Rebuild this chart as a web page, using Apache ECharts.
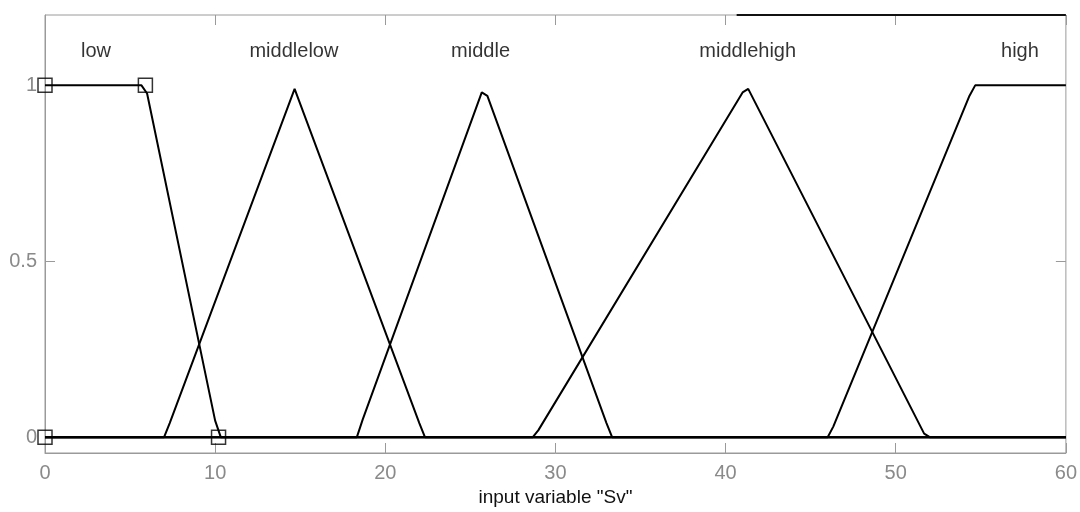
<!DOCTYPE html>
<html>
<head>
<meta charset="utf-8">
<script src="https://cdn.jsdelivr.net/npm/echarts@6/dist/echarts.min.js"></script>
<style>
html,body{margin:0;padding:0;background:#fff;}
#chart{width:1080px;height:512px;}
</style>
</head>
<body>
<div id="chart"></div>
<script>
// Membership function vertices (x, membership)
var lowPts        = [[0,1],[5.67,1],[6.0,0.977],[10.0,0.047],[10.33,0],[60,0]];
var middlelowPts  = [[0,0],[7.0,0],[7.33,0.04],[14.67,0.99],[22.0,0.04],[22.33,0],[60,0]];
var middlePts     = [[0,0],[18.33,0],[18.67,0.05],[25.67,0.98],[26.0,0.97],[33.0,0.04],[33.33,0],[60,0]];
var middlehighPts = [[0,0],[28.67,0],[29.0,0.02],[41.0,0.98],[41.33,0.99],[51.67,0.01],[52.0,0],[60,0]];
var highPts       = [[0,0],[46.0,0],[46.33,0.03],[54.33,0.97],[54.67,1],[60,1]];

// MF names and label anchor positions
var mfNames  = ['low','middlelow','middle','middlehigh','high'];
var labelX   = [3, 14.63, 25.6, 41.3, 57.3];
var labelY   = [1.095, 1.095, 1.095, 1.095, 1.095];

// selection handles of the "low" MF
var handlePts = [[0,1],[5.9,1],[0,0],[10.2,0]];

// dark segment on the top frame
var topEdgePts = [[40.65,1.2],[60,1.2]];

// ticks
var xTicks = [0,10,20,30,40,50,60];
var yTicks = [0,0.5,1];

var chart = echarts.init(document.getElementById('chart'), null, {renderer:'canvas'});
var FONT = 'Liberation Sans';
var GRAY = '#8a8a8a';
var FRAME = '#9a9a9a';

function mfSeries(name, pts){
  return {
    name:name, type:'line', data:pts, showSymbol:false, symbol:'none',
    lineStyle:{color:'#000', width:2}, itemStyle:{color:'#000'},
    animation:false, z:3, clip:true
  };
}

var labelData = mfNames.map(function(n,i){ return {name:n, value:[labelX[i], labelY[i]]}; });

var option = {
  backgroundColor:'#fff',
  animation:false,
  grid:{left:45, right:14, top:15, bottom:58, show:true, borderColor:FRAME, borderWidth:1},
  xAxis:[{
    type:'value', min:0, max:60, interval:10, position:'bottom',
    name:'input variable "Sv"', nameLocation:'middle', nameGap:35,
    nameTextStyle:{color:'#111', fontFamily:FONT, fontSize:19},
    axisLine:{show:true, onZero:false, lineStyle:{color:FRAME}},
    axisTick:{show:true, inside:true, length:10, lineStyle:{color:FRAME}},
    axisLabel:{color:GRAY, fontFamily:FONT, fontSize:20, margin:10},
    splitLine:{show:false}
  },{
    type:'value', min:0, max:60, interval:10, position:'top',
    axisLine:{show:false, onZero:false},
    axisTick:{show:true, inside:true, length:10, lineStyle:{color:FRAME}},
    axisLabel:{show:false}, splitLine:{show:false}
  }],
  yAxis:[{
    type:'value', min:-0.045, max:1.2, position:'left',
    axisLine:{show:true, onZero:false, lineStyle:{color:FRAME}},
    axisTick:{show:true, inside:true, length:10, customValues:yTicks, lineStyle:{color:FRAME}},
    axisLabel:{color:GRAY, fontFamily:FONT, fontSize:20, margin:8, customValues:yTicks},
    splitLine:{show:false}
  },{
    type:'value', min:-0.045, max:1.2, position:'right',
    axisLine:{show:false, onZero:false},
    axisTick:{show:true, inside:true, length:10, customValues:yTicks, lineStyle:{color:FRAME}},
    axisLabel:{show:false}, splitLine:{show:false}
  }],
  series:[
    mfSeries('low', lowPts),
    mfSeries('middlelow', middlelowPts),
    mfSeries('middle', middlePts),
    mfSeries('middlehigh', middlehighPts),
    mfSeries('high', highPts),
    {
      name:'handles', type:'scatter', data:handlePts, symbol:'rect', symbolSize:14,
      itemStyle:{color:'rgba(0,0,0,0)', borderColor:'#000', borderWidth:1.5},
      clip:true, z:4, silent:true
    },
    {
      name:'labels', type:'scatter', data:labelData, symbolSize:0,
      label:{show:true, position:'inside', formatter:'{b}', color:'#000', fontFamily:FONT, fontSize:20},
      z:5, silent:true
    },
    {
      name:'topEdge', type:'line', data:topEdgePts, showSymbol:false, symbol:'none',
      lineStyle:{color:'#111', width:2}, clip:false, z:6, silent:true
    }
  ]
};
chart.setOption(option);
</script>
</body>
</html>
